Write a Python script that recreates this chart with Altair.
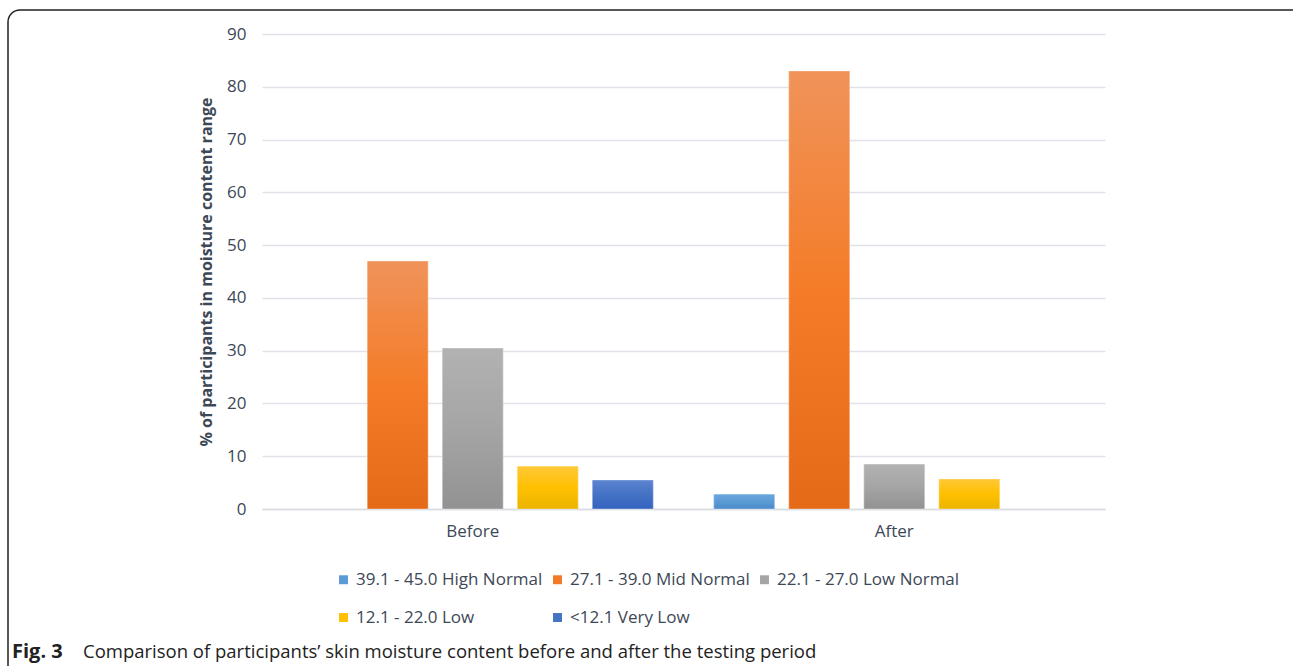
import altair as alt
import pandas as pd

groups = ["Before", "After"]
series = [
    "39.1 - 45.0 High Normal",
    "27.1 - 39.0 Mid Normal",
    "22.1 - 27.0 Low Normal",
    "12.1 - 22.0 Low",
    "<12.1 Very Low",
]
before_values = [0, 47.0, 30.5, 8.1, 5.5]
after_values = [2.8, 83.0, 8.5, 5.7, 0]
y_ticks = [0, 10, 20, 30, 40, 50, 60, 70, 80, 90]

base_colors = ["#5b9bd5", "#f07a28", "#a5a5a5", "#ffc000", "#4472c4"]
gradients = [
    ("#6aa6de", "#5b9bd5", "#4a8acb"),
    ("#f0935a", "#f47c28", "#e46a18"),
    ("#b2b2b2", "#a5a5a5", "#929292"),
    ("#ffc838", "#ffc000", "#ebb400"),
    ("#5d84d2", "#4472c4", "#3462c0"),
]

rows = []
for g, vals in zip(groups, [before_values, after_values]):
    for s, v in zip(series, vals):
        rows.append({"group": g, "series": s, "value": v})
df = pd.DataFrame(rows)

TEXT = "#3d4856"
FONT = "Open Sans"

x_enc = alt.X("group:N", sort=groups, title=None,
              scale=alt.Scale(paddingInner=0.11, paddingOuter=0.055),
              axis=alt.Axis(labelAngle=0, labelFontSize=17, labelColor=TEXT,
                            labelFont=FONT, labelPadding=14, ticks=False,
                            domainColor="#d9dce3", domainWidth=1.5))
xoff_enc = alt.XOffset("series:N", sort=series,
                       scale=alt.Scale(domain=series, paddingInner=0.19, paddingOuter=0.095))
y_enc = alt.Y("value:Q", title="% of participants in moisture content range",
              scale=alt.Scale(domain=[0, 90], nice=False),
              axis=alt.Axis(values=y_ticks, labelFontSize=17, labelColor=TEXT,
                            labelFont=FONT, labelPadding=16, ticks=False, domain=False,
                            gridColor="#dfe2e8", gridWidth=1.5,
                            titleFontSize=16, titleFont=FONT, titleColor=TEXT,
                            titleFontWeight="bold", titlePadding=12))

main = alt.Chart(df).transform_filter(alt.datum.value > 0).mark_bar().encode(
    x=x_enc,
    xOffset=xoff_enc,
    y=y_enc,
    color=alt.Color("series:N", sort=series,
                    scale=alt.Scale(domain=series, range=base_colors),
                    legend=alt.Legend(title=None, orient="none", legendX=73, legendY=537,
                                      columns=3, direction="horizontal",
                                      columnPadding=6, rowPadding=20,
                                      symbolType="square", symbolSize=80,
                                      symbolStrokeWidth=0, labelFontSize=17,
                                      labelFont=FONT, labelColor=TEXT, labelOffset=4,
                                      labelLimit=0, padding=0)),
)

layers = [main]
for s, (c_top, c_mid, c_bot) in zip(series, gradients):
    grad = alt.Gradient(
        gradient="linear",
        stops=[alt.GradientStop(offset=0, color=c_top),
               alt.GradientStop(offset=0.5, color=c_mid),
               alt.GradientStop(offset=1, color=c_bot)],
        x1=0, x2=0, y1=0, y2=1,
    )
    layers.append(
        alt.Chart(df).transform_filter(
            (alt.datum.series == s) & (alt.datum.value > 0)
        ).mark_bar(
            color=grad, stroke="#ffffff", strokeOpacity=0.35, strokeWidth=1
        ).encode(x=x_enc, xOffset=xoff_enc, y=y_enc)
    )

one = alt.Data(values=[{"a": 1}])
border = alt.Chart(one).mark_rect(
    fill=None, filled=False, stroke="#222222", strokeWidth=1.5, cornerRadius=12
).encode(x=alt.value(8 - 262), y=alt.value(10 - 34),
         x2=alt.value(1293 - 262 + 30), y2=alt.value(666 - 34 + 30))

cap_bold = alt.Chart(one).mark_text(
    text="Fig. 3", font=FONT, fontSize=20, fontWeight="bold", color="#222222",
    align="left", baseline="alphabetic"
).encode(x=alt.value(12 - 262), y=alt.value(658 - 34))

cap_text = alt.Chart(one).mark_text(
    text="Comparison of participants\u2019 skin moisture content before and after the testing period",
    font=FONT, fontSize=18.5, color="#222222", align="left", baseline="alphabetic"
).encode(x=alt.value(83 - 262), y=alt.value(658 - 34))

chart = alt.layer(*layers, border, cap_bold, cap_text).properties(
    width=843, height=475,
    padding={"left": 262, "top": 34, "right": 188, "bottom": 157},
    autosize=alt.AutoSizeParams(type="none"),
    background="white",
).configure_view(stroke=None)

chart.save("out.html", embed_options={"renderer": "svg", "actions": False})
